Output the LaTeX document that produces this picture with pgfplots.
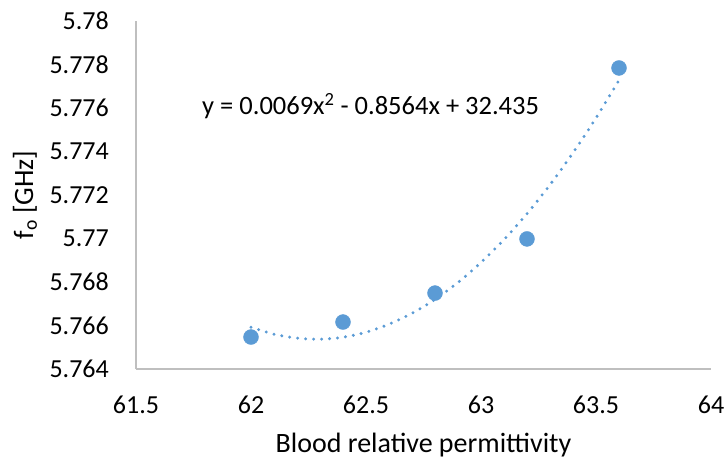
\documentclass[border=0pt]{standalone}
\usepackage{pgfplots}
\pgfplotsset{compat=1.18}
\usepackage{fontspec}
\setmainfont{Carlito}
\definecolor{exblue}{HTML}{5B9BD5}
\definecolor{axgray}{HTML}{BFBFBF}
\begin{document}
\fontsize{26bp}{30bp}\selectfont
\begin{tikzpicture}
\begin{axis}[
  scale only axis,
  width=575bp, height=348bp,
  at={(0,0)}, anchor=south west,
  xmin=61.5, xmax=64, ymin=5.764, ymax=5.78,
  axis x line=bottom, axis y line=left,
  axis line style={axgray, line width=1.2bp, -},
  major tick length=0pt,
  xtick={61.5,62,62.5,63,63.5,64},
  xticklabels={61.5,62,62.5,63,63.5,64},
  ytick={5.764,5.766,5.768,5.77,5.772,5.774,5.776,5.778,5.78},
  yticklabels={5.764,5.766,5.768,5.77,5.772,5.774,5.776,5.778,5.78},
  tick label style={font=\fontsize{26bp}{30bp}\selectfont, text=black, inner sep=0pt},
  xticklabel style={anchor=north, yshift=-27bp},
  yticklabel style={anchor=east, xshift=-27bp},
  xlabel={Blood relative permittivity},
  ylabel={f\textsubscript{o} [GHz]},
  label style={font=\fontsize{28bp}{32bp}\selectfont, inner sep=0pt},
  xlabel style={at={(axis description cs:0.5,-0.183)}, anchor=north},
  ylabel style={at={(axis description cs:-0.193,0.5)}, anchor=center},
  clip=false,
]
\addplot[exblue, line width=3.3bp, line cap=round, dash pattern=on 0bp off 8bp, smooth] coordinates {
(62.0,5.76592) (62.1,5.76560) (62.2,5.76542) (62.3,5.76537) (62.4,5.76546)
(62.5,5.76569) (62.6,5.76606) (62.7,5.76656) (62.8,5.76720) (62.9,5.76798)
(63.0,5.76890) (63.1,5.76995) (63.2,5.77114) (63.3,5.77247) (63.4,5.77394)
(63.5,5.77554) (63.6,5.77728)
};
\addplot[only marks, mark=*, mark size=7.5bp, mark options={fill=exblue, draw=exblue}] coordinates {
(62.0,5.76547) (62.4,5.76616) (62.8,5.76749) (63.2,5.76998) (63.6,5.77784)
};
\node[anchor=base west, inner sep=0pt, font=\fontsize{26.5bp}{30bp}\selectfont] at (axis cs:61.787,5.7757) {y = 0.0069x\textsuperscript{2} - 0.8564x + 32.435};
\end{axis}
\pgfresetboundingbox
\useasboundingbox (-136bp,-91bp) rectangle (588bp,369bp);
\end{tikzpicture}
\end{document}
